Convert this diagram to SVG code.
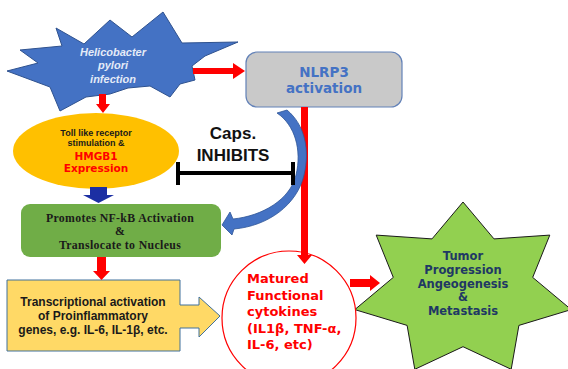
<svg xmlns="http://www.w3.org/2000/svg" width="568" height="369" viewBox="0 0 568 369">
<defs>
<style>
.red{fill:#ff0000}
.heavy{font-family:"DejaVu Sans",sans-serif;font-weight:bold}
.blk{font-family:"Liberation Sans",Arial,sans-serif;font-weight:bold;fill:#1a1a1a}
.ser{font-family:"Liberation Serif","Times New Roman",serif;font-weight:bold;fill:#1a1a1a;font-size:11.8px;letter-spacing:0.35px}
</style>
</defs>
<rect width="568" height="369" fill="#ffffff"/>

<g id="helicobacter">
<polygon points="7,71 38,63 20,50 62,46 56,28 84,44 110,20 132,37 163,12 182,43 238,42 205,56 192,66 195,80 180,84 170,97 150,86 128,88 110,94 86,97 60,111 50,87" fill="#4472c4" stroke="#2f528f" stroke-width="1"/>
<g font-family="'Liberation Sans',Arial,sans-serif" font-style="italic" font-weight="bold" font-size="11" fill="#e4ebf7" text-anchor="middle">
<text x="113" y="55.5">Helicobacter</text>
<text x="113" y="69">pylori</text>
<text x="113" y="82.5">infection</text>
</g>
</g>

<g id="nlrp3">
<rect x="246" y="52" width="156" height="55" rx="11" fill="#c9c9c9" stroke="#6382b8" stroke-width="1.2"/>
<g class="heavy" font-size="13.5" fill="#4472c4" text-anchor="middle">
<text x="324" y="77">NLRP3</text>
<text x="324" y="93">activation</text>
</g>
</g>

<g id="tlr">
<ellipse cx="96" cy="151" rx="83" ry="38" fill="#ffc000"/>
<g class="blk" font-size="9" text-anchor="middle">
<text x="96" y="136">Toll like receptor</text>
<text x="96" y="146">stimulation &amp;</text>
</g>
<g class="heavy" font-size="10.5" fill="#ff0000" text-anchor="middle">
<text x="96" y="160">HMGB1</text>
<text x="96" y="172">Expression</text>
</g>
</g>

<g id="nfkb">
<rect x="21" y="204" width="200" height="53" rx="9" fill="#70ad47"/>
<g class="ser" text-anchor="middle">
<text x="120" y="221.5">Promotes NF-kB Activation</text>
<text x="120" y="235">&amp;</text>
<text x="120" y="248.5">Translocate to Nucleus</text>
</g>
</g>

<g id="transcription">
<path d="M7,280 L180,280 L180,305 L199,305 L199,297 L220,316 L199,337 L199,328 L180,328 L180,351 L7,351 Z" fill="#ffd966" stroke="#41719c" stroke-width="1"/>
<g class="blk" font-size="12" text-anchor="middle" fill="#222222">
<text x="93" y="306">Transcriptional activation</text>
<text x="93" y="320">of Proinflammatory</text>
<text x="93" y="334">genes, e.g. IL-6, IL-1β, etc.</text>
</g>
</g>

<g id="tumor">
<polygon points="463,202 494,238.9 549.8,235.1 532.7,277.4 571.2,309.6 518.9,325.4 511.2,369.3 463,346.7 414.8,369.3 407.1,325.4 354.8,309.6 393.3,277.4 376.2,235.1 432,238.9" fill="#92d050" stroke="#1a1a1a" stroke-width="1"/>
<g class="heavy" font-size="11.5" fill="#1f3864" text-anchor="middle">
<text x="463" y="260">Tumor</text>
<text x="463" y="273.75">Progression</text>
<text x="463" y="287.5">Angeogenesis</text>
<text x="463" y="301.25">&amp;</text>
<text x="463" y="315">Metastasis</text>
</g>
</g>

<g id="cytokines">
<circle cx="289" cy="318" r="67" fill="#ffffff" stroke="#ff0000" stroke-width="1.2"/>
<g class="heavy" font-size="13" fill="#ff0000">
<text x="247" y="283">Matured</text>
<text x="247" y="300">Functional</text>
<text x="247" y="316">cytokines</text>
<text x="247" y="333">(IL1β, TNF-α,</text>
<text x="247" y="349">IL-6, etc)</text>
</g>
</g>

<g id="caps">
<g font-family="'Liberation Sans',Arial,sans-serif" font-weight="bold" font-size="17" fill="#111111" text-anchor="middle">
<text x="233" y="139">Caps.</text>
<text x="233" y="161">INHIBITS</text>
</g>
</g>

<g id="connectors">
<polygon class="red" points="99,94 106,94 106,104 110,104 103,113 96,104 99,104"/>
<polygon class="red" points="193,68 233,68 233,63 245,71 233,79 233,74 193,74"/>
<polygon class="red" points="97,257 106,257 106,271 110,271 101.5,280 93,271 97,271"/>
<polygon class="red" points="301,107 308,107 308,255 312,255 304.5,264 297,255 301,255"/>
<polygon class="red" points="350,279 370,279 370,275 380,283 370,291 370,287 350,287"/>
<polygon fill="#1c2fa3" points="90,187 107,187 107,195 114,195 98.5,203 83,195 90,195"/>
<path d="M287,110 C305,125 310,150 304,175 C297,205 268,226 234,229 L232,235 L222,225 L230,212 L233,219 C262,216 290,200 296,175 C302,150 295,125 277,113 Z" fill="#4472c4" stroke="#2f5597" stroke-width="0.8"/>
<g stroke="#000000" stroke-width="4" fill="none">
<line x1="178" y1="173" x2="293" y2="173"/>
<line x1="178" y1="162" x2="178" y2="185"/>
<line x1="293" y1="162" x2="293" y2="185"/>
</g>
</g>
</svg>
